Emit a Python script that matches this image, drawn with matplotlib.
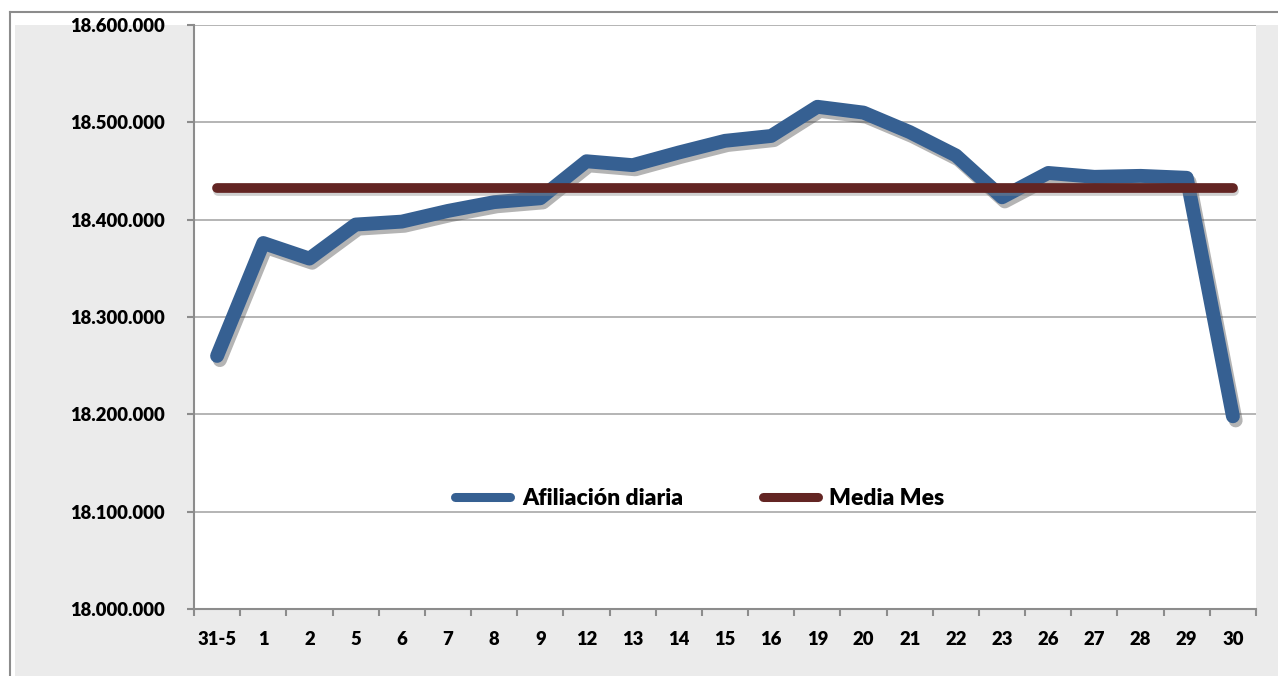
import matplotlib
matplotlib.use("Agg")
import matplotlib.pyplot as plt
import matplotlib.patheffects as pe
from matplotlib.lines import Line2D
from matplotlib.patches import Rectangle
from matplotlib.ticker import FuncFormatter, FixedLocator
import numpy as np

categories = ["31-5", "1", "2", "5", "6", "7", "8", "9", "12", "13", "14", "15",
              "16", "19", "20", "21", "22", "23", "26", "27", "28", "29", "30"]
afiliacion = [18260000, 18376000, 18360000, 18395000, 18398000, 18409000, 18418000,
              18422000, 18460000, 18456000, 18469000, 18481000, 18486000, 18516000,
              18510000, 18490000, 18466000, 18423000, 18448000, 18444000, 18445000,
              18443000, 18198000]
media_mes = [18432500] * len(categories)
y_ticks = [18000000, 18100000, 18200000, 18300000, 18400000, 18500000, 18600000]

W, H = 1278, 676
fig = plt.figure(figsize=(W / 100, H / 100), dpi=100)
fig.patch.set_facecolor("white")

FONT = "Lato"
WEIGHT = "heavy"

# background panel and outer border
fig.add_artist(Rectangle((15 / W, 0), 1, 1 - 25 / H, transform=fig.transFigure,
                         facecolor="#ebebeb", edgecolor="none", zorder=0))
fig.add_artist(Line2D([10 / W, 10 / W], [0, 1 - 12 / H], transform=fig.transFigure,
                      color="#8c8c8c", lw=1.5, zorder=1))
fig.add_artist(Line2D([10 / W, 1], [1 - 12 / H, 1 - 12 / H], transform=fig.transFigure,
                      color="#8c8c8c", lw=1.5, zorder=1))

left, right, top, bottom = 194, 1256, 25, 609
ax = fig.add_axes([left / W, (H - bottom) / H, (right - left) / W, (bottom - top) / H])
ax.set_facecolor("white")
ax.set_zorder(2)

x = np.arange(len(categories))
shadow = [pe.SimpleLineShadow(offset=(2, -3), shadow_color="#444444", alpha=0.4), pe.Normal()]
ax.plot(x, afiliacion, color="#366092", lw=10, solid_capstyle="round",
        solid_joinstyle="round", zorder=4, path_effects=shadow)
ax.plot(x, media_mes, color="#632523", lw=7, solid_capstyle="round", zorder=5,
        path_effects=[pe.SimpleLineShadow(offset=(1, -2), shadow_color="#888888", alpha=0.4), pe.Normal()])

ax.set_xlim(-0.5, len(categories) - 0.5)
ax.set_ylim(y_ticks[0], y_ticks[-1])
ax.yaxis.set_major_locator(FixedLocator(y_ticks))
ax.yaxis.set_major_formatter(FuncFormatter(lambda v, p: f"{v:,.0f}".replace(",", ".")))
ax.set_xticks(x)
ax.set_xticklabels(categories)
ax.set_xticks(np.arange(-0.5, len(categories), 1.0), minor=True)

ax.grid(axis="y", color="#a0a0a0", lw=1.1, zorder=1)
ax.set_axisbelow(True)
for s in ["top", "right"]:
    ax.spines[s].set_visible(False)
for s in ["left", "bottom"]:
    ax.spines[s].set_color("#8c8c8c")
    ax.spines[s].set_linewidth(1.5)

ax.tick_params(axis="x", which="major", length=0, pad=16)
ax.tick_params(axis="x", which="minor", length=5, width=1.5, color="#8c8c8c", direction="out")
ax.tick_params(axis="y", which="major", length=5, width=1.5, color="#8c8c8c", pad=16)
for lab in ax.get_xticklabels() + ax.get_yticklabels():
    lab.set_fontfamily(FONT)
    lab.set_fontweight(WEIGHT)
    lab.set_fontsize(13.3)
    lab.set_color("black")

handles = [Line2D([0], [0], color="#366092", lw=6.5, solid_capstyle="round"),
           Line2D([0], [0], color="#632523", lw=6.5, solid_capstyle="round")]
leg = ax.legend(handles, ["Afiliación diaria", "Media Mes"], loc="center",
                bbox_to_anchor=(0.4765, 0.19), ncol=2, frameon=False,
                handlelength=2.4, handletextpad=0.52, columnspacing=3.45,
                prop={"family": FONT, "weight": WEIGHT, "size": 16.5})
leg.set_zorder(6)

fig.savefig("out.png", dpi=100, facecolor="white")
